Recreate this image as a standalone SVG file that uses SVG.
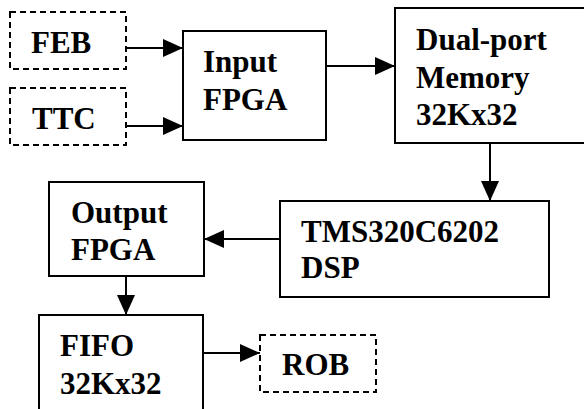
<svg xmlns="http://www.w3.org/2000/svg" width="584" height="409" viewBox="0 0 584 409">
<style>
.box{fill:#fff;stroke:#000;stroke-width:2}
.dash{fill:#fff;stroke:#000;stroke-width:2;stroke-dasharray:6,4}
.t{font-family:'Liberation Serif','Times New Roman',serif;font-weight:700;font-size:31px;fill:#000}
.c{stroke:#000;stroke-width:2;fill:none}
</style>
<defs>
<marker id="ah" markerUnits="userSpaceOnUse" markerWidth="20" markerHeight="20" viewBox="0 0 20 20" refX="20" refY="10" orient="auto">
<path d="M0,1 L20,10 L0,19 Z" fill="#000"/>
</marker>
</defs>
<rect width="584" height="409" fill="#fff"/>
<g id="connectors">
<line class="c" x1="126" y1="48" x2="183" y2="48" marker-end="url(#ah)"/>
<line class="c" x1="126" y1="126" x2="183" y2="126" marker-end="url(#ah)"/>
<line class="c" x1="318" y1="66" x2="395" y2="66" marker-end="url(#ah)"/>
<line class="c" x1="490" y1="143" x2="490" y2="201" marker-end="url(#ah)"/>
<line class="c" x1="280" y1="239" x2="204" y2="239" marker-end="url(#ah)"/>
<line class="c" x1="126" y1="276" x2="126" y2="315" marker-end="url(#ah)"/>
<line class="c" x1="203" y1="353" x2="260" y2="353" marker-end="url(#ah)"/>
</g>
<g id="feb"><rect class="dash" x="10" y="12" width="116" height="57"/><text class="t" x="31" y="53">FEB</text></g>
<g id="ttc"><rect class="dash" x="10" y="88" width="116" height="57"/><text class="t" x="32" y="129">TTC</text></g>
<g id="input-fpga"><rect class="box" x="183" y="31" width="143" height="109"/><text class="t" x="203" y="72">Input</text><text class="t" x="203" y="110">FPGA</text></g>
<g id="memory"><rect class="box" x="395" y="8" width="200" height="135"/><text class="t" x="416" y="50">Dual-port</text><text class="t" x="416" y="88">Memory</text><text class="t" x="416" y="125">32Kx32</text></g>
<g id="dsp"><rect class="box" x="280" y="201" width="269" height="96"/><text class="t" x="301" y="242">TMS320C6202</text><text class="t" x="301" y="278">DSP</text></g>
<g id="output-fpga"><rect class="box" x="49" y="182" width="155" height="94"/><text class="t" x="71" y="223">Output</text><text class="t" x="71" y="260">FPGA</text></g>
<g id="fifo"><rect class="box" x="39" y="315" width="164" height="100"/><text class="t" x="60" y="356">FIFO</text><text class="t" x="60" y="394">32Kx32</text></g>
<g id="rob"><rect class="dash" x="260" y="335" width="116" height="57"/><text class="t" x="282" y="375">ROB</text></g>
</svg>
